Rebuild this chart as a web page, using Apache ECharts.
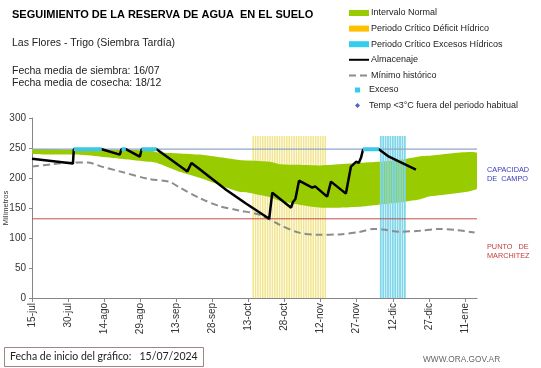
<!DOCTYPE html>
<html><head><meta charset="utf-8">
<script src="https://cdn.jsdelivr.net/npm/echarts@6.0.0/dist/echarts.min.js"></script>
<style>html,body{margin:0;padding:0;background:#fff}#c{width:541px;height:368px}</style>
</head><body><div id="c"></div>
<script>
// ---- data (days counted from 15-jul-2024) ----
const tickLabels = ['15-jul','30-jul','14-ago','29-ago','13-sep','28-sep','13-oct','28-oct','12-nov','27-nov','12-dic','27-dic','11-ene'];
const tickStep = 15;
const xMax = 185;
const capacidadCampo = 248;
const puntoMarchitez = 132;

const almDays   = [0,17,17.4,29,36.5,37.2,39,44.8,45.6,51.8,64.6,66.3,69.6,80.8,89.1,98.6,99.9,107.7,108.5,109.5,111,116.5,117.7,122.7,124.3,130.5,132.6,134.7,135.9,136.8,137.6,144.2,148.4,159.6];
const almValues = [232,224,248,248,239,248,248,235.5,248,248,211,225,215,180,157,132,175.5,150.5,160,165,195.5,184,186,169,194,174,219,227,225.5,234,247,248,235.5,214];

const normalDays  = [0,18,28,49,52,61,70,86,90,99,103,111,119,128,136,144,152.5,161,165,185];
const normalUpper = [248,247,247,246,243,241,239,230,229,227,223,222,221,223,225,227,230,236,237,242];
const normalLower = [240,239,236,227,225,211,200,177,175.5,168,162,155.5,151,150.5,152,155.5,159,164,169,182];

const minDays   = [0,8.7,17,23,29,36.5,49,57,61,70,78,86,94.5,103,111,119,128,136,142,146,152.5,161,169,177,184];
const minValues = [219,223,226,226,219,211,198,194,185,166,153,146,139,122,109,105.5,106,110,115,114,110.5,112,115,113,109];

const deficitDays = [92,93,94,95,96,97,98,99,100,101,102,103,104,105,106,107,108,109,110,111,112,113,114,115,116,117,118,119,120,121,122];
const excesoPeriodDays = [145,146,147,148,149,150,151,152,153,154,155];
const periodTop = 270;

const excesoSegments = [[17.4,29],[37.2,39],[45.6,51.8],[137.6,144.2]];

// ---- build series data ----
const almData = almDays.map((d,i)=>[d, almValues[i]]);
const minData = minDays.map((d,i)=>[d, minValues[i]]);
const normalData = normalDays.map((d,i)=>[d, normalLower[i], normalUpper[i]]);
const deficitData = deficitDays.map(d=>[d, periodTop]);
const excesoPData = excesoPeriodDays.map(d=>[d, periodTop]);
const excesoData = [];
excesoSegments.forEach(s=>{ excesoData.push([s[0],capacidadCampo],[s[1],capacidadCampo],[s[1],null]); });
const tickDays = tickLabels.map((_,i)=>i*tickStep);

const FONT = '"Liberation Sans", Arial, sans-serif';
const chart = echarts.init(document.getElementById('c'), null, {renderer:'canvas'});
chart.setOption({
  animation:false,
  backgroundColor:'#ffffff',
  grid:{left:32, right:64, top:118, bottom:70, containLabel:false, outerBoundsMode:'none'},
  legend:[{
    orient:'vertical', left:348, top:7, padding:0, itemWidth:20, itemHeight:6, itemGap:3.6,
    textStyle:{fontFamily:FONT, fontSize:9, color:'#222', lineHeight:12, padding:[0,0,0,-3]},
    data:[
      {name:'Intervalo Normal', icon:'rect', itemStyle:{color:'#99cc00'}},
      {name:'Periodo Crítico Déficit Hídrico', icon:'rect', itemStyle:{color:'#ffc000'}},
      {name:'Periodo Crítico Excesos Hídricos', icon:'rect', itemStyle:{color:'#33ccee'}},
      {name:'Almacenaje', itemStyle:{opacity:0}},
      {name:'Mínimo histórico', itemStyle:{opacity:0}}
    ]
  },{
    orient:'vertical', left:355, top:84, padding:0, itemWidth:5, itemHeight:5, itemGap:3.6,
    textStyle:{fontFamily:FONT, fontSize:9, color:'#222', lineHeight:12, padding:[0,0,0,4]},
    data:[
      {name:'Exceso', icon:'rect', itemStyle:{color:'#33ccee'}},
      {name:'Temp <3°C fuera del periodo habitual', icon:'diamond', itemStyle:{color:'#1f3fbf'}}
    ]
  }],
  xAxis:{
    type:'value', min:0, max:xMax, interval:tickStep,
    axisLine:{show:true, lineStyle:{color:'#868686', width:1}},
    axisTick:{show:true, length:4, lineStyle:{color:'#868686'}, customValues:tickDays},
    axisLabel:{rotate:90, fontFamily:FONT, fontSize:10, color:'#333', margin:5,
      customValues:tickDays,
      formatter:v=>{const k=Math.round(v/tickStep); return (Math.abs(v-k*tickStep)<1e-6 && tickLabels[k])?tickLabels[k]:'';}},
    splitLine:{show:false}
  },
  yAxis:{
    type:'value', min:0, max:300, interval:50,
    name:'Milímetros', nameLocation:'middle', nameGap:22, nameRotate:90, nameMoveOverlap:false,
    nameTextStyle:{fontFamily:FONT, fontSize:7.5, color:'#333'},
    axisLine:{show:true, lineStyle:{color:'#868686', width:1}},
    axisTick:{show:true, length:3, lineStyle:{color:'#868686'}},
    axisLabel:{fontFamily:FONT, fontSize:10, color:'#333', margin:6},
    splitLine:{show:false}
  },
  series:[
    {name:'Periodo Crítico Déficit Hídrico', type:'bar', z:1, barWidth:1.5, data:deficitData,
      itemStyle:{color:'#f2e48a'}, silent:true},
    {name:'Intervalo Normal', type:'custom', z:2, clip:true, data:normalData,
      itemStyle:{color:'#99cc00'},
      encode:{x:0, y:[1,2]},
      renderItem:(params, api)=>{
        if (params.dataIndex !== 0) return null;
        const pts = [];
        for (let i=0;i<normalDays.length;i++) pts.push(api.coord([normalDays[i], normalUpper[i]]));
        for (let i=normalDays.length-1;i>=0;i--) pts.push(api.coord([normalDays[i], normalLower[i]]));
        return {type:'polygon', shape:{points:pts, smooth:0.15}, style:{fill:'#99cc00'}};
      }},
    {name:'Periodo Crítico Excesos Hídricos', type:'bar', z:3, barWidth:1.8, barGap:'-100%', data:excesoPData,
      itemStyle:{color:'#7fd6ea'}, silent:true},
    {name:'Mínimo histórico', type:'line', z:4, symbol:'none', smooth:0.3, data:minData,
      itemStyle:{color:'#8c8c8c'},
      lineStyle:{color:'#8c8c8c', width:2, type:[7,4]}},
    {name:'cc', type:'line', z:4, symbol:'none', silent:true,
      data:[[0,capacidadCampo],[xMax,capacidadCampo]], lineStyle:{color:'#8ea6c8', width:1.2}},
    {name:'pm', type:'line', z:4, symbol:'none', silent:true,
      data:[[0,puntoMarchitez],[xMax,puntoMarchitez]], lineStyle:{color:'#c0504d', width:1}},
    {name:'Almacenaje', type:'line', z:5, symbol:'none', data:almData,
      itemStyle:{color:'#000'}, lineStyle:{color:'#000', width:2.5}},
    {name:'Exceso', type:'line', z:6, symbol:'none', connectNulls:false, data:excesoData,
      itemStyle:{color:'#33ccee'}, lineStyle:{color:'#3cc8e8', width:4}},
    {name:'Temp <3°C fuera del periodo habitual', type:'scatter', z:6, symbol:'diamond', symbolSize:6,
      itemStyle:{color:'#1f3fbf'}, data:[]}
  ],
  graphic:[
    {type:'text', left:12, top:9, style:{text:'SEGUIMIENTO DE LA RESERVA DE AGUA  EN EL SUELO', font:'bold 11px '+FONT, fill:'#000'}},
    {type:'text', left:12, top:38, style:{text:'Las Flores - Trigo (Siembra Tardía)', font:'10.5px '+FONT, fill:'#222'}},
    {type:'text', left:12, top:65.5, style:{text:'Fecha media de siembra: 16/07\nFecha media de cosecha: 18/12', font:'10.5px '+FONT, fill:'#222', lineHeight:11.7}},
    {type:'text', left:487, top:165, style:{text:'CAPACIDAD\nDE  CAMPO', font:'7.3px '+FONT, fill:'#3a3ab8', lineHeight:9}},
    {type:'text', left:487, top:242, style:{text:'PUNTO   DE\nMARCHITEZ', font:'7.3px '+FONT, fill:'#c43c3c', lineHeight:9}},
    {type:'rect', left:4, top:347, shape:{width:199, height:19}, style:{fill:'#fff', stroke:'#a08585', lineWidth:1}},
    {type:'text', left:10, top:351, style:{text:'Fecha de inicio del gráfico:   15/07/2024', font:'10.5px Lato, "Open Sans", sans-serif', fill:'#222'}},
    {type:'text', left:423, top:356, style:{text:'WWW.ORA.GOV.AR', font:'8.3px '+FONT, fill:'#666'}}
  ]
});
</script></body></html>
